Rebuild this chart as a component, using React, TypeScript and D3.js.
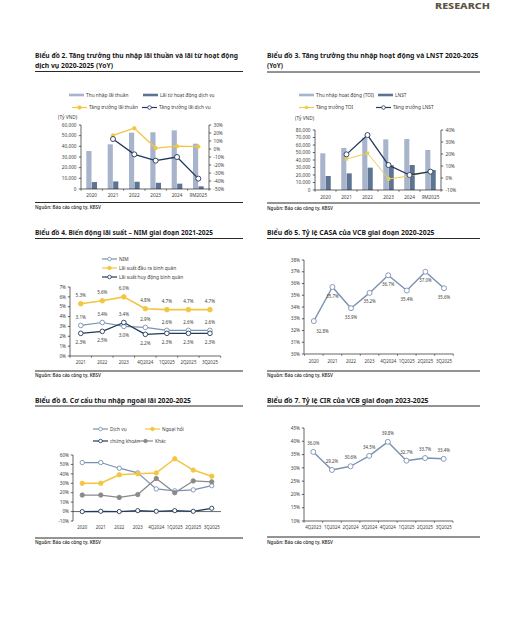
import React from "react";
import * as d3 from "d3";

// ---------- DATA ----------
const years2 = ["2020", "2021", "2022", "2023", "2024", "9M2025"];
const netInterestIncome = [35600, 41900, 52800, 53200, 55000, 42500];
const feeIncome = [6500, 7100, 6800, 5800, 5000, 2500];
const niiGrowth: (number | null)[] = [null, 17, 26, 1.2, 3.5, 3];
const feeGrowth: (number | null)[] = [null, 12.5, -6.7, -14.6, -10, -37];

const years3 = ["2020", "2021", "2022", "2023", "2024", "9M2025"];
const toi = [48900, 56000, 69500, 67500, 68000, 53300];
const npat = [18700, 22200, 29800, 33000, 33300, 26700];
const toiGrowth: (number | null)[] = [null, 15.8, 20.6, -0.8, 1.7, 5.3];
const npatGrowth: (number | null)[] = [null, 19.7, 35.8, 10.8, 2.5, 5.3];

const periods4 = ["2021", "2022", "2023", "4Q2024", "1Q2025", "2Q2025", "3Q2025"];
const nim = [3.1, 3.4, 3.0, 2.9, 2.6, 2.6, 2.6];
const lendingYield = [5.3, 5.6, 6.0, 4.8, 4.7, 4.7, 4.7];
const costOfFunds = [2.3, 2.5, 3.4, 2.2, 2.3, 2.3, 2.3];

const periods5 = ["2020", "2021", "2022", "2023", "4Q2024", "1Q2025", "2Q2025", "3Q2025"];
const casa = [32.8, 35.7, 33.9, 35.2, 36.7, 35.4, 37.0, 35.6];

const periods6 = ["2020", "2021", "2022", "2023", "4Q2024", "1Q2025", "2Q2025", "3Q2025"];
const dichVu = [52, 52, 46, 41, 24, 22, 23, 27.5];
const ngoaiHoi = [30, 30, 39, 40, 41, 56, 44, 37.5];
const chungKhoan = [0, 0.3, 0, 1, 0.3, 1, 0.3, 3.5];
const khac = [17.5, 17.5, 15, 18, 35, 20, 32.5, 31.5];

const periods7 = ["4Q2023", "1Q2024", "2Q2024", "3Q2024", "4Q2024", "1Q2025", "2Q2025", "3Q2025"];
const cir = [36.0, 29.2, 30.6, 34.5, 39.8, 32.7, 33.7, 33.4];

// ---------- STYLE ----------
const FONT = "'Noto Sans', 'Open Sans', sans-serif";
const TXT = "#404040";
const AX = "#262626";
const C_LIGHT_BAR = "#a7b4cb";
const C_DARK_BAR = "#5d7493";
const C_YELLOW = "#f3c543";
const C_YELLOW2 = "#e6cf52";
const C_NAVY = "#21395a";
const C_SLATE = "#7a91b1";
const C_GRAY = "#8a8a8a";
const SRC = "Nguồn: Báo cáo công ty, KBSV";

type Band = d3.ScaleBand<string>;
type Lin = d3.ScaleLinear<number, number>;

function Frame({ x0, x1, titleY, lines, widths, ruleY, srcRuleY, srcY }: any) {
  return (
    <g>
      {lines.map((l: string, i: number) => (
        <text key={i} x={x0} y={titleY + i * 10} fontSize={7.6} fontWeight={700} fill="#1a1a1a"
          textLength={widths[i]} lengthAdjust="spacingAndGlyphs">{l}</text>
      ))}
      <line x1={x0} x2={x1} y1={ruleY} y2={ruleY} stroke="#111" strokeWidth={0.9} />
      <line x1={x0} x2={x1} y1={srcRuleY} y2={srcRuleY} stroke="#111" strokeWidth={0.9} />
      <text x={x0} y={srcY} fontSize={5} fontWeight={600} fill="#333" textLength={66} lengthAdjust="spacingAndGlyphs">{SRC}</text>
    </g>
  );
}

function YAxis({ scale, ticks, x, side, fmt, off = 4.5 }: { scale: Lin; ticks: number[]; x: number; side: "left" | "right"; fmt: (v: number) => string; off?: number }) {
  const [a, b] = scale.range();
  const s = side === "left" ? -1 : 1;
  return (
    <g>
      <line x1={x} x2={x} y1={a} y2={b} stroke={AX} strokeWidth={0.7} />
      {ticks.map((t) => (
        <g key={t}>
          <line x1={x} x2={x + s * 2.2} y1={scale(t)} y2={scale(t)} stroke={AX} strokeWidth={0.7} />
          <text x={x + s * off} y={scale(t)} dy="0.35em" textAnchor={side === "left" ? "end" : "start"} fontSize={4.7} fill={TXT}>{fmt(t)}</text>
        </g>
      ))}
    </g>
  );
}

function XAxis({ x, y, labelY, fs = 4.9 }: { x: Band; y: number; labelY: number; fs?: number }) {
  const [r0, r1] = x.range();
  const dom = x.domain();
  const step = x.step();
  return (
    <g>
      <line x1={r0} x2={r1} y1={y} y2={y} stroke={AX} strokeWidth={0.7} />
      {d3.range(dom.length + 1).map((i) => (
        <line key={i} x1={r0 + i * step} x2={r0 + i * step} y1={y} y2={y + 1.8} stroke={AX} strokeWidth={0.6} />
      ))}
      {dom.map((d) => (
        <text key={d} x={x(d)! + x.bandwidth() / 2} y={labelY} textAnchor="middle" fontSize={fs} fill={TXT}>{d}</text>
      ))}
    </g>
  );
}

function Series({ x, y, cats, vals, color, width = 1.3, marker = "circle", fill = "#fff", r = 2.3 }: any) {
  const cx = (d: string) => x(d)! + x.bandwidth() / 2;
  const pts: [string, number | null][] = cats.map((c: string, i: number) => [c, vals[i]]);
  const line = d3.line<[string, number | null]>().defined((d) => d[1] != null).x((d) => cx(d[0])).y((d) => y(d[1] as number));
  return (
    <g>
      <path d={line(pts) || ""} fill="none" stroke={color} strokeWidth={width} strokeLinejoin="round" />
      {pts.filter((p) => p[1] != null).map((p) =>
        marker === "square" ? (
          <rect key={p[0]} x={cx(p[0]) - r} y={y(p[1] as number) - r} width={2 * r} height={2 * r} fill={fill} stroke={color} strokeWidth={0.6} />
        ) : (
          <circle key={p[0]} cx={cx(p[0])} cy={y(p[1] as number)} r={r} fill={fill} stroke={color} strokeWidth={0.9} />
        )
      )}
    </g>
  );
}

function LegendBar({ x, y, color, label, w = 15 }: any) {
  return (
    <g>
      <rect x={x} y={y - 1.3} width={w} height={2.6} fill={color} />
      <text x={x + w + 2} y={y} dy="0.35em" fontSize={4.8} fill={TXT}>{label}</text>
    </g>
  );
}
function LegendLine({ x, y, color, label, w = 15, fill = "#fff", marker = "circle", r = 1.8 }: any) {
  return (
    <g>
      <line x1={x} x2={x + w} y1={y} y2={y} stroke={color} strokeWidth={1.2} />
      {marker === "square" ? (
        <rect x={x + w / 2 - r} y={y - r} width={2 * r} height={2 * r} fill={fill} stroke={color} strokeWidth={0.6} />
      ) : (
        <circle cx={x + w / 2} cy={y} r={r} fill={fill} stroke={color} strokeWidth={0.8} />
      )}
      <text x={x + w + 2} y={y} dy="0.35em" fontSize={4.8} fill={TXT}>{label}</text>
    </g>
  );
}

const pct = (v: number) => `${v}%`;
const pct1 = (v: number) => `${v.toFixed(1)}%`;
const LBL = 4.4;

function Chart2() {
  const x = d3.scaleBand().domain(years2).range([81, 209]).paddingInner(0.5).paddingOuter(0.25);
  const sub = d3.scaleBand().domain(["a", "b"]).range([0, x.bandwidth()]).paddingInner(0.06);
  const yL = d3.scaleLinear().domain([0, 60000]).range([189, 125]);
  const yR = d3.scaleLinear().domain([-50, 30]).range([189, 125]);
  return (
    <g>
      <Frame x0={35} x1={243} titleY={58} ruleY={71.5} srcRuleY={202.5} srcY={209}
        lines={["Biểu đồ 2. Tăng trưởng thu nhập lãi thuần và lãi từ hoạt động", "dịch vụ 2020-2025 (YoY)"]}
        widths={[203, 78]} />
      <LegendBar x={69} y={95} color={C_LIGHT_BAR} label="Thu nhập lãi thuần" />
      <LegendBar x={143} y={95} color={C_DARK_BAR} label="Lãi từ hoạt động dịch vụ" />
      <LegendLine x={72} y={107.5} color={C_YELLOW} fill={C_YELLOW} label="Tăng trưởng lãi thuần" />
      <LegendLine x={142} y={107.5} color={C_NAVY} label="Tăng trưởng lãi dịch vụ" />
      <text x={58} y={119} fontSize={4.8} fill={TXT}>(Tỷ VND)</text>
      {years2.map((d, i) => (
        <g key={d}>
          <rect x={x(d)! + sub("a")!} y={yL(netInterestIncome[i])} width={sub.bandwidth()} height={yL(0) - yL(netInterestIncome[i])} fill={C_LIGHT_BAR} />
          <rect x={x(d)! + sub("b")!} y={yL(feeIncome[i])} width={sub.bandwidth()} height={yL(0) - yL(feeIncome[i])} fill={C_DARK_BAR} />
        </g>
      ))}
      <YAxis scale={yL} ticks={d3.range(0, 60001, 10000)} x={81} side="left" fmt={d3.format(",")} />
      <YAxis scale={yR} ticks={d3.range(-50, 31, 10)} x={209} side="right" fmt={pct} />
      <XAxis x={x} y={189} labelY={197} fs={4.7} />
      <Series x={x} y={yR} cats={years2} vals={niiGrowth} color={C_YELLOW} fill={C_YELLOW} r={1.7} width={1.3} />
      <Series x={x} y={yR} cats={years2} vals={feeGrowth} color={C_NAVY} r={2.5} width={1.3} />
    </g>
  );
}

function Chart3() {
  const x = d3.scaleBand().domain(years3).range([315, 441]).paddingInner(0.5).paddingOuter(0.25);
  const sub = d3.scaleBand().domain(["a", "b"]).range([0, x.bandwidth()]).paddingInner(0.06);
  const yL = d3.scaleLinear().domain([0, 80000]).range([190, 130]);
  const yR = d3.scaleLinear().domain([-10, 40]).range([190, 130]);
  return (
    <g>
      <Frame x0={267} x1={480} titleY={58} ruleY={72} srcRuleY={203} srcY={209.5}
        lines={["Biểu đồ 3. Tăng trưởng thu nhập hoạt động và LNST 2020-2025", "(YoY)"]}
        widths={[211.5, 16]} />
      <LegendBar x={299} y={95} color={C_LIGHT_BAR} label="Thu nhập hoạt động (TOI)" />
      <LegendBar x={378} y={95} color={C_DARK_BAR} label="LNST" />
      <LegendLine x={299} y={107.5} color={C_YELLOW2} fill={C_YELLOW2} marker="square" r={1.3} label="Tăng trưởng TOI" />
      <LegendLine x={376} y={107.5} color={C_NAVY} label="Tăng trưởng LNST" />
      <text x={295} y={120} fontSize={4.8} fill={TXT}>(Tỷ VND)</text>
      {years3.map((d, i) => (
        <g key={d}>
          <rect x={x(d)! + sub("a")!} y={yL(toi[i])} width={sub.bandwidth()} height={yL(0) - yL(toi[i])} fill={C_LIGHT_BAR} />
          <rect x={x(d)! + sub("b")!} y={yL(npat[i])} width={sub.bandwidth()} height={yL(0) - yL(npat[i])} fill={C_DARK_BAR} />
        </g>
      ))}
      <YAxis scale={yL} ticks={d3.range(0, 80001, 10000)} x={315} side="left" fmt={d3.format(",")} />
      <YAxis scale={yR} ticks={d3.range(-10, 41, 10)} x={441} side="right" fmt={pct} />
      <XAxis x={x} y={190} labelY={199} fs={4.7} />
      <Series x={x} y={yR} cats={years3} vals={toiGrowth} color={C_YELLOW2} fill={C_YELLOW2} marker="square" r={1.4} width={1} />
      <Series x={x} y={yR} cats={years3} vals={npatGrowth} color={C_NAVY} r={2.5} width={1.3} />
    </g>
  );
}

function Chart4() {
  const x = d3.scaleBand().domain(periods4).range([70, 220.7]);
  const y = d3.scaleLinear().domain([0, 7]).range([356, 287]);
  const cx = (d: string) => x(d)! + x.bandwidth() / 2;
  return (
    <g>
      <Frame x0={35} x1={243} titleY={235} ruleY={238.5} srcRuleY={371} srcY={377}
        lines={["Biểu đồ 4. Biến động lãi suất – NIM giai đoạn 2021-2025"]} widths={[178]} />
      <LegendLine x={102} y={259} color={C_SLATE} label="NIM" />
      <LegendLine x={102} y={268} color={C_YELLOW} fill={C_YELLOW} label="Lãi suất đầu ra bình quân" />
      <LegendLine x={102} y={277} color={C_NAVY} label="Lãi suất huy động bình quân" />
      <YAxis scale={y} ticks={d3.range(0, 8)} x={70} side="left" fmt={pct} off={4} />
      <XAxis x={x} y={356} labelY={364} fs={LBL} />
      <Series x={x} y={y} cats={periods4} vals={nim} color={C_SLATE} r={2.3} width={1.2} />
      <Series x={x} y={y} cats={periods4} vals={costOfFunds} color={C_NAVY} r={2.3} width={1.3} />
      <Series x={x} y={y} cats={periods4} vals={lendingYield} color={C_YELLOW} fill={C_YELLOW} r={2.3} width={1.6} />
      {periods4.map((d, i) => {
        const hi = Math.max(nim[i], costOfFunds[i]);
        const lo = Math.min(nim[i], costOfFunds[i]);
        return (
          <g key={d} fontSize={LBL + 0.2} fill={TXT} textAnchor="middle">
            <text x={cx(d)} y={y(lendingYield[i]) - 6.5}>{pct1(lendingYield[i])}</text>
            <text x={cx(d)} y={y(hi) - 6.5}>{pct1(hi)}</text>
            <text x={cx(d)} y={y(lo) + 10.5}>{pct1(lo)}</text>
          </g>
        );
      })}
    </g>
  );
}

function Chart5() {
  const x = d3.scaleBand().domain(periods5).range([304.5, 453.3]);
  const y = d3.scaleLinear().domain([30, 38]).range([354, 260]);
  const cx = (d: string) => x(d)! + x.bandwidth() / 2;
  return (
    <g>
      <Frame x0={267} x1={480} titleY={235} ruleY={238.5} srcRuleY={371} srcY={377}
        lines={["Biểu đồ 5. Tỷ lệ CASA của VCB giai đoạn 2020-2025"]} widths={[167.5]} />
      <YAxis scale={y} ticks={d3.range(30, 39)} x={304} side="left" fmt={pct} off={4} />
      <XAxis x={x} y={354} labelY={363} fs={LBL} />
      <Series x={x} y={y} cats={periods5} vals={casa} color={C_SLATE} r={2.5} width={1.4} />
      {periods5.map((d, i) => (
        <text key={d} x={i === 0 ? cx(d) + 2.5 : cx(d)} y={y(casa[i]) + (i === 0 ? 12 : 10.5)}
          textAnchor={i === 0 ? "start" : "middle"} fontSize={LBL} fill={TXT}>{pct1(casa[i])}</text>
      ))}
    </g>
  );
}

function Chart6() {
  const x = d3.scaleBand().domain(periods6).range([73, 221]);
  const y = d3.scaleLinear().domain([-10, 60]).range([521, 455]);
  return (
    <g>
      <Frame x0={35} x1={243} titleY={402.5} ruleY={406} srcRuleY={538} srcY={544}
        lines={["Biểu đồ 6. Cơ cấu thu nhập ngoài lãi 2020-2025"]} widths={[156]} />
      <LegendLine x={93} y={429} color={C_SLATE} label="Dịch vụ" />
      <LegendLine x={145} y={429} color={C_YELLOW} fill={C_YELLOW} label="Ngoại hối" />
      <LegendLine x={93} y={441} color={C_NAVY} label="chứng khoán" />
      <LegendLine x={138} y={441} color={C_GRAY} fill={C_GRAY} label="Khác" />
      <YAxis scale={y} ticks={d3.range(-10, 61, 10)} x={73} side="left" fmt={pct} off={4} />
      <g>
        <line x1={73} x2={221} y1={y(0)} y2={y(0)} stroke={AX} strokeWidth={0.7} />
        {periods6.map((d) => (
          <text key={d} x={x(d)! + x.bandwidth() / 2} y={529} textAnchor="middle" fontSize={LBL} fill={TXT}>{d}</text>
        ))}
      </g>
      <Series x={x} y={y} cats={periods6} vals={dichVu} color={C_SLATE} r={2.2} width={1.2} />
      <Series x={x} y={y} cats={periods6} vals={ngoaiHoi} color={C_YELLOW} fill={C_YELLOW} r={2.2} width={1.5} />
      <Series x={x} y={y} cats={periods6} vals={khac} color={C_GRAY} fill={C_GRAY} r={2.2} width={1.3} />
      <Series x={x} y={y} cats={periods6} vals={chungKhoan} color={C_NAVY} r={2.1} width={1.3} />
    </g>
  );
}

function Chart7() {
  const x = d3.scaleBand().domain(periods7).range([304, 453]);
  const y = d3.scaleLinear().domain([10, 45]).range([521, 428]);
  const cx = (d: string) => x(d)! + x.bandwidth() / 2;
  return (
    <g>
      <Frame x0={267} x1={480} titleY={402.5} ruleY={406} srcRuleY={537} srcY={543.5}
        lines={["Biểu đồ 7. Tỷ lệ CIR của VCB giai đoạn 2023-2025"]} widths={[161.5]} />
      <YAxis scale={y} ticks={d3.range(10, 46, 5)} x={304} side="left" fmt={pct} off={4} />
      <XAxis x={x} y={521} labelY={529} fs={LBL} />
      <Series x={x} y={y} cats={periods7} vals={cir} color={C_SLATE} r={2.5} width={1.4} />
      {periods7.map((d, i) => (
        <text key={d} x={cx(d)} y={y(cir[i]) - 7} textAnchor="middle" fontSize={LBL} fill={TXT}>{pct1(cir[i])}</text>
      ))}
    </g>
  );
}

export default function App() {
  return (
    <svg width={515} height={627} style={{ position: "absolute", left: 0, top: 0, display: "block" }} fontFamily={FONT}>
      <rect width={515} height={627} fill="#fff" />
      <text x={435} y={9.2} fontSize={8.4} fontWeight={800} fill="#5c5343" textLength={55} lengthAdjust="spacingAndGlyphs">RESEARCH</text>
      <Chart2 />
      <Chart3 />
      <Chart4 />
      <Chart5 />
      <Chart6 />
      <Chart7 />
    </svg>
  );
}
